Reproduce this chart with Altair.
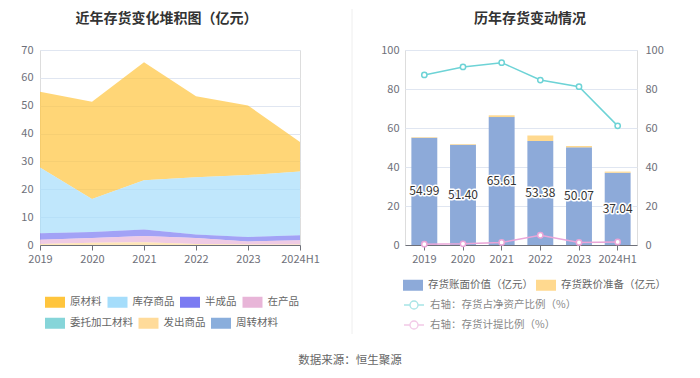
import altair as alt
import pandas as pd

# ---------------- data ----------------
years = ["2019", "2020", "2021", "2022", "2023", "2024H1"]

left_title = "近年存货变化堆积图（亿元）"
right_title = "历年存货变动情况"
source_text = "数据来源：恒生聚源"

# left chart: inventory composition (亿元)
categories = ["原材料", "库存商品", "半成品", "在产品", "委托加工材料", "发出商品", "周转材料"]
raw_material = [27.2, 34.9, 42.4, 29.1, 25.0, 10.6]
finished_goods = [23.6, 11.8, 17.6, 20.5, 22.2, 22.9]
semi_finished = [2.3, 2.2, 2.4, 1.3, 1.6, 1.8]
work_in_process = [1.5, 1.7, 2.2, 2.1, 1.1, 1.5]
consigned_processing = [0, 0, 0, 0, 0, 0]
goods_shipped = [0.4, 0.8, 1.0, 0.4, 0.2, 0.2]
turnover_materials = [0, 0, 0, 0, 0, 0]
cat_values = [raw_material, finished_goods, semi_finished, work_in_process,
              consigned_processing, goods_shipped, turnover_materials]
cat_colors = ["#FFC53D", "#A5DDFB", "#7B7BF2", "#E8B5D8", "#86D5D9", "#FFDB9A", "#8AAEDC"]
stack_rank = [6, 5, 4, 3, 1, 0, 2]  # 0 = bottom of stack
legend_row1 = categories[:4]
legend_row2 = categories[4:]

# right chart
bar_series = ["存货账面价值（亿元）", "存货跌价准备（亿元）"]
book_value = [54.99, 51.40, 65.61, 53.38, 50.07, 37.04]
impairment = [0.3, 0.35, 0.9, 2.8, 0.7, 0.6]
bar_colors = ["#8DAAD9", "#FFD98F"]

line_series = ["右轴：存货占净资产比例（%）", "右轴：存货计提比例（%）"]
ratio_net_assets = [87.2, 91.3, 93.5, 84.6, 81.2, 61.1]
provision_ratio = [0.4, 0.6, 1.3, 5.0, 1.3, 1.6]
line_colors = ["#6DD3D6", "#EAA5D8"]

# ---------------- tables ----------------
left_rows = []
for i, y in enumerate(years):
    for cat, vals, rk in zip(categories, cat_values, stack_rank):
        left_rows.append({"year": y, "cat": cat, "value": vals[i], "rk": rk})
left_df = pd.DataFrame(left_rows)

bar_rows = []
for i, y in enumerate(years):
    bar_rows.append({"year": y, "series": bar_series[0], "value": book_value[i], "rk": 0})
    bar_rows.append({"year": y, "series": bar_series[1], "value": impairment[i], "rk": 1})
bar_df = pd.DataFrame(bar_rows)

label_df = pd.DataFrame({"year": years, "book": book_value})

line_rows = []
for i, y in enumerate(years):
    line_rows.append({"year": y, "series": line_series[0], "value": ratio_net_assets[i]})
    line_rows.append({"year": y, "series": line_series[1], "value": provision_ratio[i]})
line_df = pd.DataFrame(line_rows)

one_df = pd.DataFrame({"k": [0]})

FONT = "Noto Sans CJK SC"
AXIS_C = "#6E7079"
GRID_C = "#E0E6F1"
RECT_SYM = "M-1,-0.55H1V0.55H-1Z"
LINE_SYM = ("M-1,0H-0.4M0.4,0H1M0.4,0A0.4,0.4 0 1 1 -0.4,0"
            "A0.4,0.4 0 1 1 0.4,0")


def rect_legend(x, y, col_pad):
    return alt.Legend(title=None, orient="none", legendX=x, legendY=y,
                      direction="horizontal",
                      symbolType=RECT_SYM, symbolSize=400, symbolOpacity=1,
                      symbolStrokeWidth=0, labelFontSize=10.5, labelColor="#666",
                      labelFont=FONT, labelOffset=5, columnPadding=col_pad, padding=0)


# ---------------- left chart ----------------
x_left = alt.X("year:N", sort=years, scale=alt.Scale(type="point", padding=0),
               axis=alt.Axis(title=None, labelAngle=0, domainColor=AXIS_C, tickColor=AXIS_C,
                             tickSize=5, labelPadding=3, grid=False, labelColor=AXIS_C,
                             labelFontSize=11, labelFont=FONT))
y_left = alt.Y("y1:Q", scale=alt.Scale(domain=[0, 70], nice=False),
               axis=alt.Axis(title=None, values=list(range(0, 71, 10)), domain=False,
                             ticks=False, labelPadding=7, gridColor=GRID_C, labelColor=AXIS_C,
                             labelFontSize=11, labelFont=FONT, labelOverlap=False))

left_base = alt.Chart(left_df).transform_stack(
    stack="value", groupby=["year"], as_=["y0", "y1"],
    sort=[alt.SortField("rk", order="ascending")],
)
area_a = left_base.transform_filter(
    alt.FieldOneOfPredicate(field="cat", oneOf=legend_row1)
).mark_area(opacity=0.7).encode(
    x=x_left, y=y_left, y2="y0:Q",
    color=alt.Color("cat:N", scale=alt.Scale(domain=legend_row1, range=cat_colors[:4]),
                    legend=rect_legend(5, 242, 5.5)),
)
area_b = left_base.transform_filter(
    alt.FieldOneOfPredicate(field="cat", oneOf=legend_row2)
).mark_area(opacity=0.7).encode(
    x=x_left, y=y_left, y2="y0:Q",
    fill=alt.Fill("cat:N", scale=alt.Scale(domain=legend_row2, range=cat_colors[4:]),
                  legend=rect_legend(5, 263, 5.5)),
)
title_l = alt.Chart(one_df).mark_text(
    text=left_title, fontSize=14, fontWeight="bold", font=FONT, color="#333",
    align="center", baseline="middle",
).encode(x=alt.value(126.5), y=alt.value(-31))

left = alt.layer(area_a, area_b, title_l).properties(width=260, height=195)

# ---------------- right chart ----------------
x_right = alt.X("year:N", sort=years,
                scale=alt.Scale(paddingInner=0.33, paddingOuter=0.165),
                axis=alt.Axis(title=None, labelAngle=0, domainColor=AXIS_C, tickColor=AXIS_C,
                              tickSize=5, labelPadding=3, grid=False, labelColor=AXIS_C,
                              labelFontSize=11, labelFont=FONT, bandPosition=0.5))
bar_axis = alt.Axis(title=None, orient="left", values=list(range(0, 101, 20)),
                    domain=False, ticks=False, labelPadding=6, gridColor=GRID_C,
                    labelColor=AXIS_C, labelFontSize=11, labelFont=FONT,
                    labelOverlap=False)
bar_scale = alt.Scale(domain=[0, 100], nice=False)

bars = alt.Chart(bar_df).mark_bar().encode(
    x=x_right,
    y=alt.Y("value:Q", stack="zero", scale=bar_scale, axis=bar_axis),
    color=alt.Color("series:N", scale=alt.Scale(domain=bar_series, range=bar_colors),
                    legend=rect_legend(-2, 225, 3)),
    order=alt.Order("rk:Q", sort="ascending"),
)

label_base = alt.Chart(label_df).transform_calculate(
    mid="datum.book / 2", lab="format(datum.book, '.2f')"
)
halo = label_base.mark_text(fontSize=12, font=FONT, stroke="white", strokeWidth=3,
                            fill="white", strokeJoin="round").encode(
    x=alt.X("year:N", sort=years), y=alt.Y("mid:Q", scale=bar_scale, axis=bar_axis),
    text="lab:N")
labels = label_base.mark_text(fontSize=12, font=FONT, fill="#333").encode(
    x=alt.X("year:N", sort=years), y=alt.Y("mid:Q", scale=bar_scale, axis=bar_axis),
    text="lab:N")

left_axis_layer = alt.layer(bars, halo, labels)

y_line = alt.Y("value:Q", scale=alt.Scale(domain=[0, 100], nice=False),
               axis=alt.Axis(title=None, orient="right", values=list(range(0, 101, 20)),
                             domain=False, ticks=False, grid=False, labelPadding=8,
                             labelColor=AXIS_C, labelFontSize=11, labelFont=FONT,
                             labelOverlap=False))
stroke_enc = alt.Stroke("series:N", scale=alt.Scale(domain=line_series, range=line_colors),
                        legend=alt.Legend(title=None, orient="none", legendX=-2, legendY=244,
                                          columns=1, symbolType=LINE_SYM, symbolSize=400,
                                          symbolFillColor="white", symbolStrokeWidth=1.3,
                                          symbolOpacity=0.6, labelFontSize=10.5,
                                          labelColor="#888", labelFont=FONT, labelOffset=5,
                                          rowPadding=2, padding=0))
lines = alt.Chart(line_df).mark_line(strokeWidth=1.5).encode(
    x=alt.X("year:N", sort=years), y=y_line, stroke=stroke_enc)
points = alt.Chart(line_df).mark_point(filled=False, fill="white", size=28,
                                       strokeWidth=1.5, opacity=1).encode(
    x=alt.X("year:N", sort=years), y=y_line, stroke=stroke_enc)
lines_layer = alt.layer(lines, points)

divider = alt.Chart(one_df).mark_rule(color="#EEEEEE", strokeWidth=1).encode(
    x=alt.value(-53), y=alt.value(-41), y2=alt.value(284))
source = alt.Chart(one_df).mark_text(
    text=source_text, fontSize=11.5, font=FONT, color="#666",
    align="center", baseline="middle",
).encode(x=alt.value(-55), y=alt.value(311))
title_r = alt.Chart(one_df).mark_text(
    text=right_title, fontSize=14, fontWeight="bold", font=FONT, color="#333",
    align="center", baseline="middle",
).encode(x=alt.value(125), y=alt.value(-31))

right = alt.layer(left_axis_layer, lines_layer, divider, source, title_r).resolve_scale(
    y="independent"
).properties(width=232, height=195)

chart = alt.hconcat(left, right, spacing=105, bounds="flush").resolve_scale(
    color="independent", fill="independent", stroke="independent"
).resolve_legend(color="independent", fill="independent", stroke="independent").properties(
    padding={"left": 12, "top": 0, "right": 0, "bottom": 0}
).configure_view(stroke=None).configure(background="white")

chart.save("out.html", embed_options={"renderer": "svg", "actions": False})
